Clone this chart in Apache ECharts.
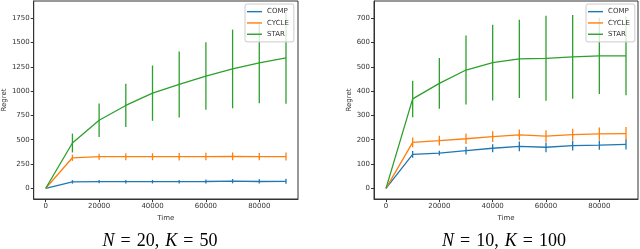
<!DOCTYPE html>
<html>
<head>
<meta charset="utf-8">
<script src="https://cdn.jsdelivr.net/npm/echarts@6/dist/echarts.min.js"></script>
<style>
html,body{margin:0;padding:0;background:#fff;}
#c{width:640px;height:249px;}
</style>
</head>
<body>
<div id="c"></div>
<script>
// ---- data ----
var time = [0, 10000, 20000, 30000, 40000, 50000, 60000, 70000, 80000, 90000];
var seriesNames = ['COMP', 'CYCLE', 'STAR'];
var xTicks = [0, 20000, 40000, 60000, 80000];

// Left panel: N = 20, K = 50
var yTicksLeft = [0, 250, 500, 750, 1000, 1250, 1500, 1750];
var compLeft = [0, 66, 68, 68, 68, 68, 70, 73, 70, 72];
var compLeftErr = [0, 18, 16, 18, 18, 18, 20, 22, 22, 26];
var cycleLeft = [0, 314, 325, 325, 325, 325, 327, 329, 326, 327];
var cycleLeftErr = [0, 32, 30, 36, 36, 38, 38, 40, 38, 42];
var starLeft = [0, 466, 701, 853, 980, 1070, 1156, 1229, 1291, 1343];
var starLeftErr = [0, 97, 172, 223, 285, 340, 348, 405, 414, 473];

// Right panel: N = 10, K = 100
var yTicksRight = [0, 100, 200, 300, 400, 500, 600, 700];
var compRight = [0, 140, 145, 155, 165, 173, 169, 176, 178, 181];
var compRightErr = [0, 14, 10, 16, 16, 20, 20, 20, 19, 21];
var cycleRight = [0, 189, 196, 204, 213, 220, 215, 221, 224, 225];
var cycleRightErr = [0, 20, 20, 22, 22, 22, 24, 24, 26, 27];
var starRight = [0, 368, 432, 487, 517, 533, 535, 541, 545, 545];
var starRightErr = [0, 75, 104, 142, 156, 161, 175, 172, 157, 162];

var titleLeft = ['N', ' = 20, ', 'K', ' = 50'];
var titleRight = ['N', ' = 10, ', 'K', ' = 100'];

// ---- chart ----
var colors = ['#1f77b4', '#ff7f0e', '#2ca02c'];
var FONT = 'DejaVu Sans';
var TXT = '#333';

function pairs(m) { return time.map(function (t, i) { return [t, m[i]]; }); }
function errData(m, e) {
  var out = [];
  time.forEach(function (t, i) { if (e[i] > 0) out.push([t, m[i] - e[i], m[i] + e[i]]); });
  return out;
}
function errRender(color) {
  return function (params, api) {
    var p1 = api.coord([api.value(0), api.value(1)]);
    var p2 = api.coord([api.value(0), api.value(2)]);
    return { type: 'line', shape: { x1: p1[0], y1: p1[1], x2: p2[0], y2: p2[1] },
             style: { stroke: color, lineWidth: 1.3 } };
  };
}

function xAxis(gi) {
  return {
    type: 'value', gridIndex: gi, min: -4500, max: 94500,
    name: 'Time', nameLocation: 'middle', nameGap: 15,
    nameTextStyle: { fontFamily: FONT, fontSize: 7, color: TXT },
    axisLine: { show: true, onZero: false, lineStyle: { color: '#333', width: 1 } },
    axisTick: { show: true, length: 3, lineStyle: { color: '#333' }, customValues: xTicks },
    axisLabel: { fontFamily: FONT, fontSize: 7, color: TXT, margin: 4, customValues: xTicks,
                 formatter: function (v) { return String(v); } },
    splitLine: { show: false }
  };
}
function yAxis(gi, mn, mx, ticks, gap) {
  return {
    type: 'value', gridIndex: gi, min: mn, max: mx,
    name: 'Regret', nameLocation: 'middle', nameGap: gap, nameRotate: 90,
    nameTextStyle: { fontFamily: FONT, fontSize: 7, color: TXT },
    axisLine: { show: true, onZero: false, lineStyle: { color: '#333', width: 1 } },
    axisTick: { show: true, length: 3, lineStyle: { color: '#333' }, customValues: ticks },
    axisLabel: { fontFamily: FONT, fontSize: 7, color: TXT, margin: 4, customValues: ticks,
                 formatter: function (v) { return String(v); } },
    splitLine: { show: false }
  };
}

var panels = [
  [compLeft, compLeftErr, cycleLeft, cycleLeftErr, starLeft, starLeftErr],
  [compRight, compRightErr, cycleRight, cycleRightErr, starRight, starRightErr]
];
var series = [];
panels.forEach(function (p, gi) {
  for (var k = 0; k < 3; k++) {
    series.push({
      type: 'line', name: seriesNames[k], xAxisIndex: gi, yAxisIndex: gi,
      data: pairs(p[2 * k]), symbol: 'none', showSymbol: false,
      lineStyle: { color: colors[k], width: 1.3 }, itemStyle: { color: colors[k] },
      z: 2 + k, animation: false
    });
    series.push({
      type: 'custom', name: seriesNames[k] + ' err', xAxisIndex: gi, yAxisIndex: gi,
      data: errData(p[2 * k], p[2 * k + 1]), renderItem: errRender(colors[k]),
      encode: { x: 0, y: [1, 2] }, z: 2 + k, animation: false, silent: true
    });
  }
});

function legend(left) {
  return {
    data: seriesNames.map(function (n) { return { name: n, icon: 'rect' }; }),
    orient: 'vertical', left: left, top: 4,
    itemWidth: 15, itemHeight: 1.4, itemGap: 2,
    textStyle: { fontFamily: FONT, fontSize: 7, color: TXT, lineHeight: 9.3 },
    backgroundColor: 'rgba(255,255,255,0.8)', borderColor: '#ccc', borderWidth: 1,
    borderRadius: 2, padding: [3, 5, 3, 2], selectedMode: false, z: 20
  };
}

var SP = '\u2004';
function titleText(parts, cx) {
  return {
    type: 'text', x: cx, y: 241, z: 10,
    style: {
      text: '{i|' + parts[0] + '}{r|' + parts[1].replace(/ /g, SP) + '}{i|' + parts[2] + '}{r|' + parts[3].replace(/ /g, SP) + '}',
      align: 'center', verticalAlign: 'middle',
      rich: {
        i: { fontFamily: 'Liberation Serif', fontStyle: 'italic', fontSize: 18, fill: '#000' },
        r: { fontFamily: 'Liberation Serif', fontSize: 18, fill: '#000' }
      }
    }
  };
}

var chart = echarts.init(document.getElementById('c'), null, { renderer: 'canvas' });
chart.setOption({
  animation: false,
  backgroundColor: '#fff',
  grid: [
    { left: 33, top: 1, width: 265, height: 198, show: true, borderColor: '#333', borderWidth: 1, backgroundColor: 'transparent' },
    { left: 374, top: 1, width: 264, height: 198, show: true, borderColor: '#333', borderWidth: 1, backgroundColor: 'transparent' }
  ],
  xAxis: [xAxis(0), xAxis(1)],
  yAxis: [yAxis(0, -110.5, 1929, yTicksLeft, 25), yAxis(1, -43.9, 771, yTicksRight, 20)],
  legend: [legend(245), legend(586)],
  series: series,
  graphic: [titleText(titleLeft, 160), titleText(titleRight, 504)]
});
</script>
</body>
</html>
